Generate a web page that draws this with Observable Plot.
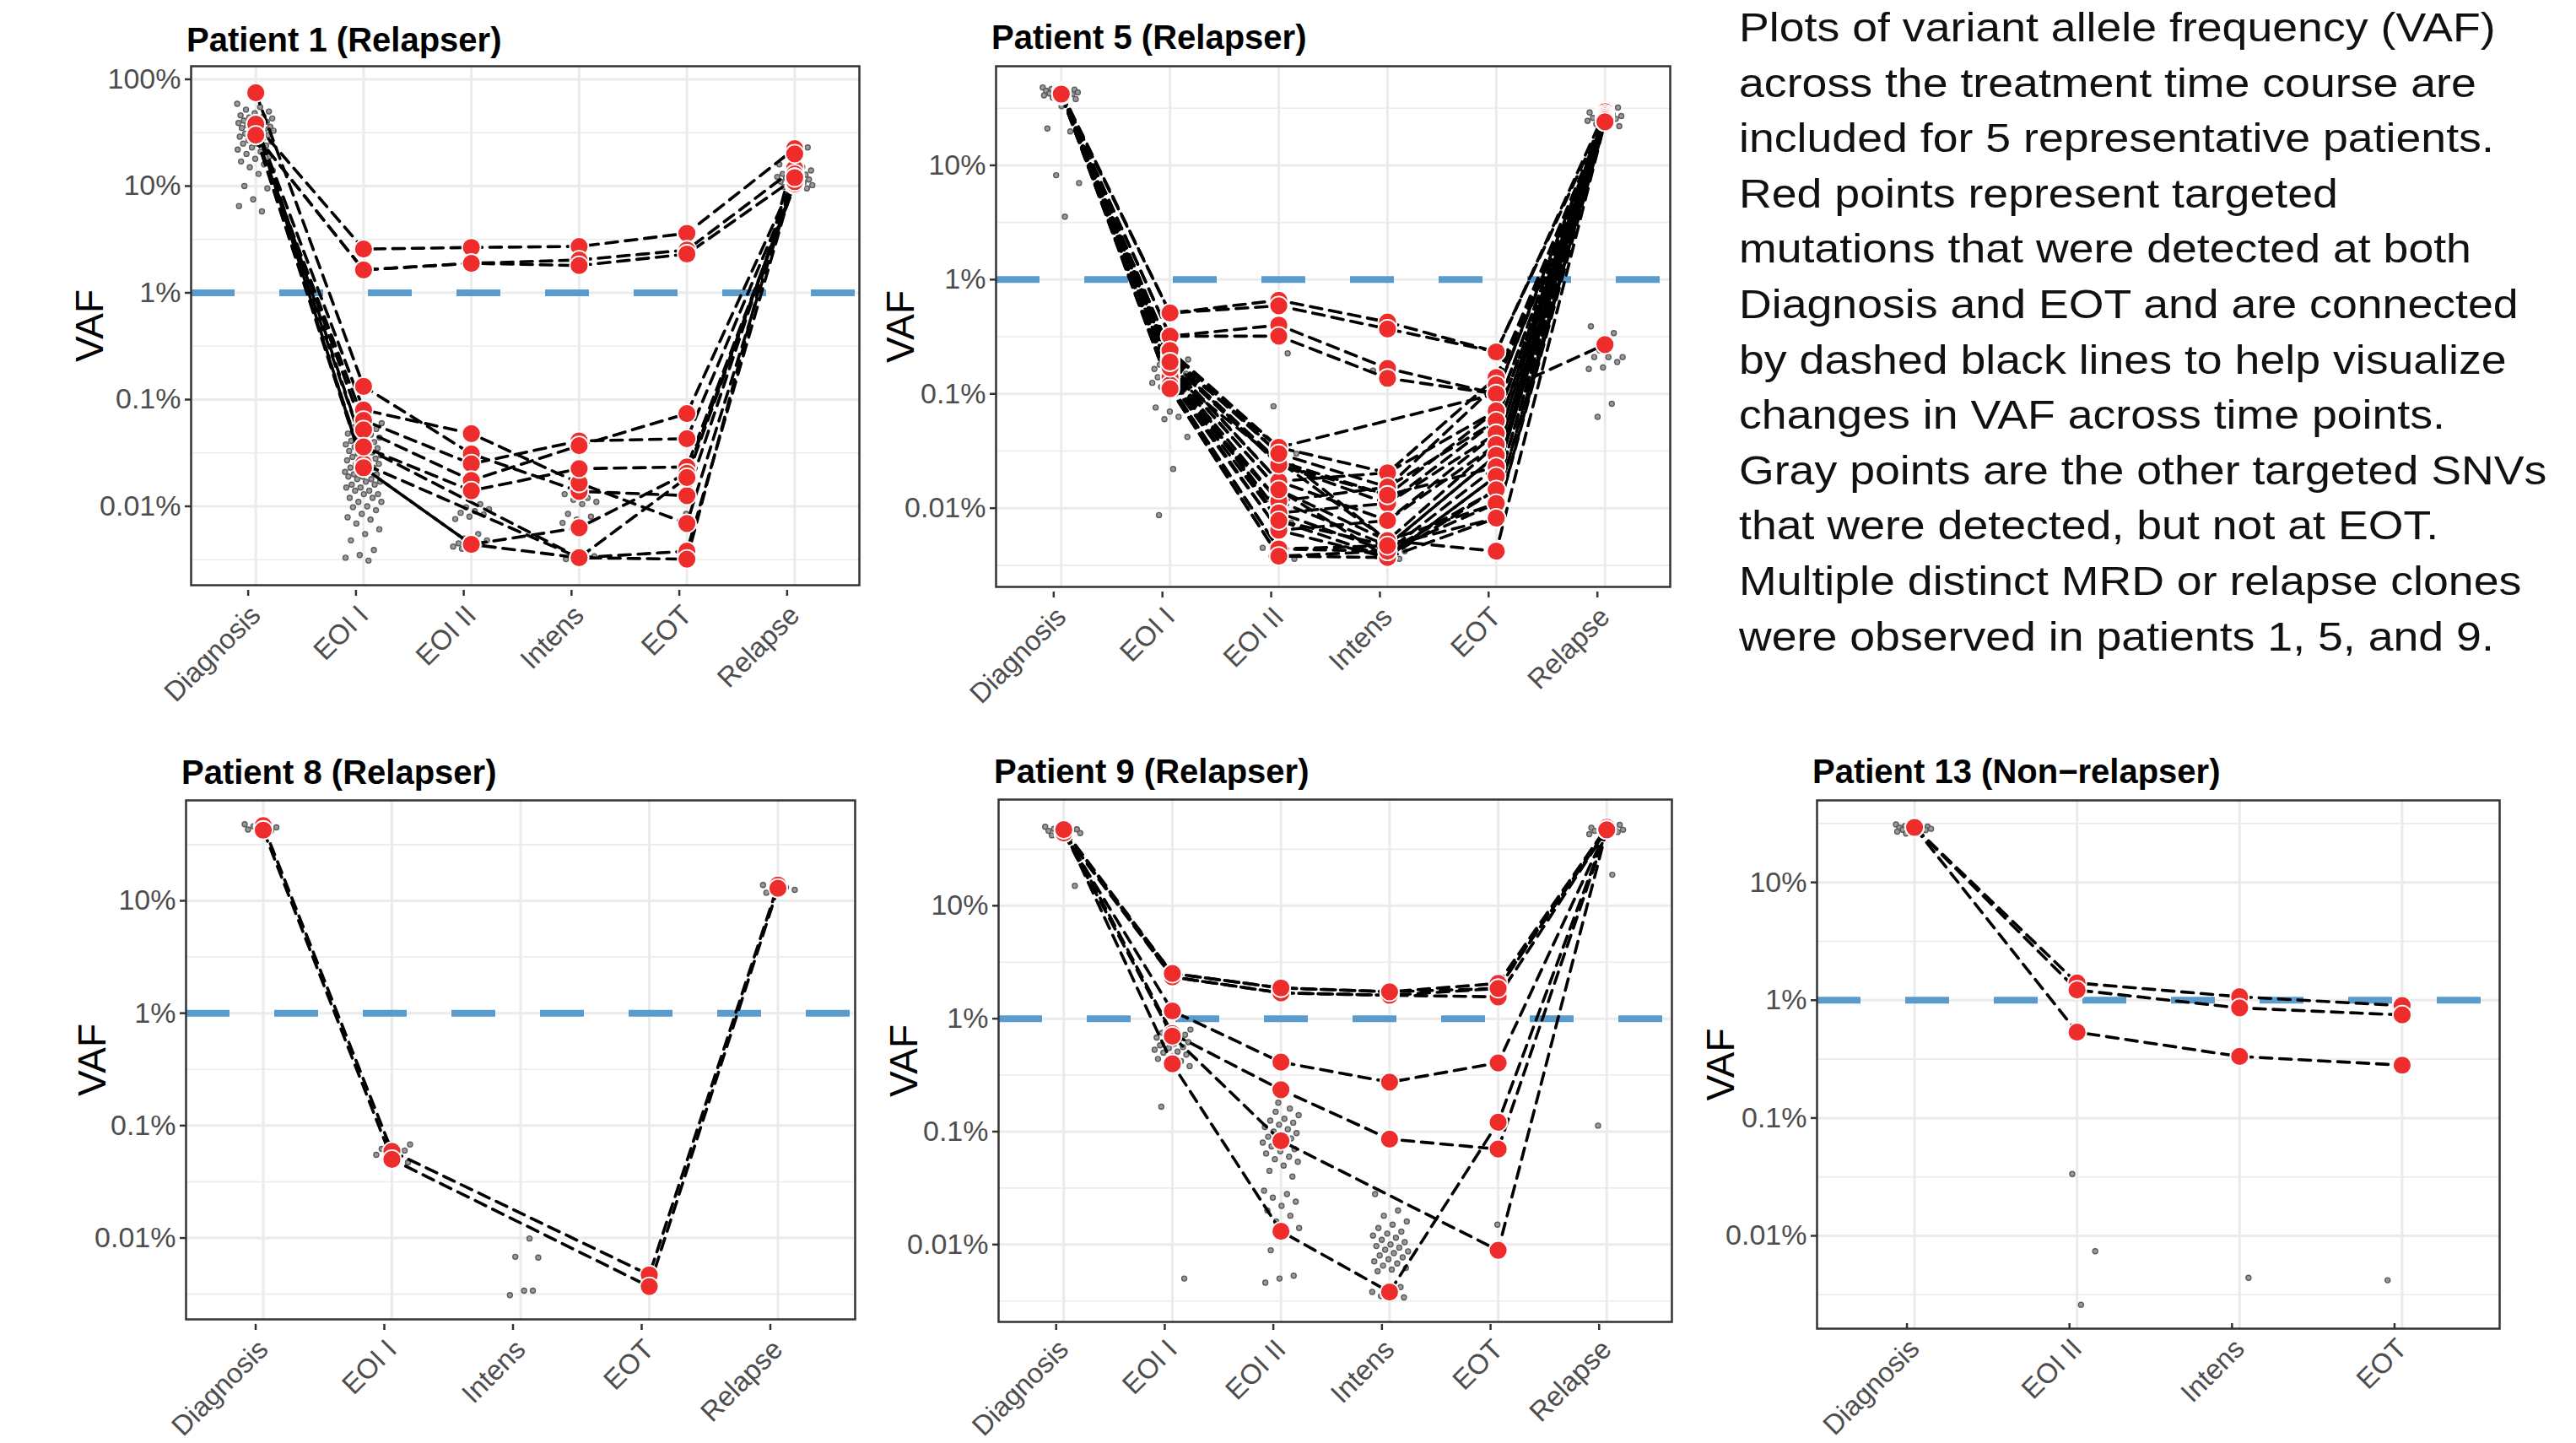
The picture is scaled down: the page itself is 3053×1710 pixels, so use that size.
<!DOCTYPE html>
<html><head><meta charset="utf-8">
<script src="https://cdn.jsdelivr.net/npm/d3@7"></script>
<script src="https://cdn.jsdelivr.net/npm/@observablehq/plot@0.6"></script>
<style>
html,body{margin:0;padding:0;background:#fff;}
body{width:3053px;height:1710px;position:relative;overflow:hidden;font-family:"Liberation Sans",Arial,Helvetica,sans-serif;}
.title{position:absolute;font-weight:bold;font-size:40px;line-height:40px;color:#000;white-space:nowrap;}
#note{position:absolute;left:2061px;top:0px;font-size:49px;line-height:65.6px;color:#111;white-space:pre;transform:scaleX(1.095);transform-origin:0 0;}
</style></head><body>
<div id="note"></div>
<script>
// ---------- data ----------
const yTickValues = [100, 10, 1, 0.1, 0.01];
const yTickLabels = ["100%", "10%", "1%", "0.1%", "0.01%"];
const yMinorValues = [31.62, 3.162, 0.3162, 0.03162, 0.003162];
const thresholdVAF = 1;

const noteLines = [
  "Plots of variant allele frequency (VAF)",
  "across the treatment time course are",
  "included for 5 representative patients.",
  "Red points represent targeted",
  "mutations that were detected at both",
  "Diagnosis and EOT and are connected",
  "by dashed black lines to help visualize",
  "changes in VAF across time points.",
  "Gray points are the other targeted SNVs",
  "that were detected, but not at EOT.",
  "Multiple distinct MRD or relapse clones",
  "were observed in patients 1, 5, and 9."
];

// Patient 1
const p1Title = "Patient 1 (Relapser)";
const p1Categories = ["Diagnosis", "EOI I", "EOI II", "Intens", "EOT", "Relapse"];
const p1Tracks = [
  [38, 2.57, 2.66, 2.72, 3.61, 22.4],
  [30, 1.64, 1.89, 2.03, 2.52, 14.6],
  [30, 1.64, 1.89, 1.80, 2.31, 11.8],
  [74.8, 0.133, 0.031, 0.0138, 0.0126, 13],
  [38, 0.080, 0.048, 0.0165, 0.0069, 12],
  [30, 0.064, 0.025, 0.041, 0.043, 11],
  [30, 0.052, 0.0175, 0.037, 0.074, 12],
  [38, 0.036, 0.014, 0.0225, 0.0234, 10.2],
  [30, 0.023, 0.0044, 0.0063, 0.0204, 10.5],
  [30, 0.025, null, 0.0033, 0.0186, 11],
  [38, 0.023, 0.0044, 0.0033, 0.0038, 12],
  [30, 0.036, null, 0.0033, 0.0032, 20]
];
const p1Gray = [
  [59, 55, 52, 50, 48, 46, 45, 44, 43, 42, 41, 40, 40, 39, 38, 37, 36, 36, 35, 34, 33, 33, 32, 31, 30, 30, 29, 28, 27, 26, 25, 25, 24, 23, 22, 21, 20, 19, 18, 17, 16, 15, 14, 13, 10, 9.5, 7.5, 6.5, 5.8],
  [0.065, 0.06, 0.058, 0.055, 0.053, 0.05, 0.048, 0.047, 0.045, 0.044, 0.042, 0.041, 0.04, 0.039, 0.038, 0.037, 0.036, 0.035, 0.034, 0.033, 0.032, 0.031, 0.03, 0.03, 0.029, 0.028, 0.027, 0.027, 0.026, 0.025, 0.025, 0.024, 0.023, 0.023, 0.022, 0.021, 0.021, 0.02, 0.02, 0.019, 0.019, 0.018, 0.018, 0.017, 0.017, 0.016, 0.016, 0.015, 0.015, 0.014, 0.014, 0.013, 0.013, 0.012, 0.012, 0.011, 0.011, 0.01, 0.0098, 0.0092, 0.0085, 0.0079, 0.0075, 0.0069, 0.0061, 0.0055, 0.0048, 0.0039, 0.0035, 0.0033, 0.0031],
  [0.0105, 0.0098, 0.0094, 0.009, 0.0087, 0.0084, 0.008, 0.0076, 0.0055, 0.005, 0.0048, 0.0046, 0.0045, 0.0044, 0.0043, 0.0042, 0.0041, 0.004],
  [0.013, 0.012, 0.0115, 0.011, 0.0105, 0.0085, 0.008, 0.0075, 0.007, 0.0036, 0.0035, 0.0034, 0.0033, 0.0032],
  [0.0085],
  [23, 21, 16, 15, 14.5, 14, 13.5, 13, 12.8, 12.5, 12.2, 12, 11.8, 11.5, 11.2, 11, 10.8, 10.5, 10.2, 10, 9.8, 9.5, 9.2]
];

// Patient 5
const p5Title = "Patient 5 (Relapser)";
const p5Categories = ["Diagnosis", "EOI I", "EOI II", "Intens", "EOT", "Relapse"];
const p5Tracks = [
  [44, 0.51, 0.66, 0.425, 0.233, 29.5],
  [42, 0.51, 0.59, 0.37, 0.233, 27],
  [42, 0.32, 0.40, 0.167, 0.10, 24],
  [42, 0.32, 0.32, 0.137, 0.10, 0.27],
  [42, 0.24, 0.034, 0.0204, 0.139, 26],
  [43, 0.22, 0.030, 0.0153, 0.12, 25],
  [42, 0.20, 0.0257, 0.013, 0.071, 27],
  [41, 0.19, 0.024, 0.011, 0.058, 24],
  [44, 0.185, 0.0172, 0.0078, 0.045, 28],
  [42, 0.17, 0.0145, 0.0052, 0.036, 25],
  [43, 0.16, 0.0115, 0.0047, 0.029, 24],
  [42, 0.15, 0.0091, 0.0042, 0.023, 26],
  [41, 0.143, 0.0078, 0.0037, 0.019, 27],
  [42, 0.13, 0.0064, 0.0037, 0.0145, 25],
  [43, 0.12, 0.0044, 0.0042, 0.011, 24],
  [42, 0.111, 0.0038, 0.0037, 0.0082, 28],
  [42, 0.20, 0.034, null, 0.10, 26],
  [44, 0.15, 0.0257, 0.0052, 0.0042, 24],
  [42, 0.18, 0.0172, 0.0204, 0.071, 27],
  [41, 0.13, 0.0115, 0.0153, 0.058, 25],
  [43, 0.16, 0.0091, 0.011, 0.045, 26],
  [42, 0.14, 0.0064, 0.0078, 0.036, 28],
  [42, 0.12, 0.0044, 0.0047, 0.029, 24],
  [44, 0.20, 0.024, 0.013, 0.023, 25],
  [42, 0.17, 0.0145, 0.0037, 0.019, 27],
  [43, 0.111, 0.0038, 0.0042, 0.0145, 26],
  [42, 0.24, 0.030, 0.0052, 0.011, 25],
  [42, 0.19, 0.0078, 0.0047, 0.0082, 24]
];
const p5Gray = [
  [48, 47, 46.5, 46, 45.5, 45, 44.5, 44, 43.5, 43, 42.5, 42, 41.5, 41, 40, 39, 38, 33, 21, 19.8, 8.2, 7.0, 3.55],
  [0.22, 0.2, 0.19, 0.18, 0.175, 0.17, 0.165, 0.16, 0.155, 0.15, 0.145, 0.14, 0.135, 0.13, 0.125, 0.12, 0.115, 0.11, 0.07, 0.076, 0.063, 0.06, 0.042, 0.022, 0.0087],
  [0.226, 0.078, 0.03, 0.02, 0.012, 0.0075, 0.005, 0.0045, 0.0042, 0.0038, 0.0036],
  [0.16, 0.0048, 0.0044, 0.0042, 0.004, 0.0038, 0.0036],
  [],
  [32, 30, 29, 28, 27.5, 27, 26.5, 26, 25.5, 25, 24.5, 24, 23, 22, 21, 0.39, 0.34, 0.24, 0.21, 0.21, 0.21, 0.19, 0.17, 0.165, 0.082, 0.063]
];

// Patient 8
const p8Title = "Patient 8 (Relapser)";
const p8Categories = ["Diagnosis", "EOI I", "Intens", "EOT", "Relapse"];
const p8Tracks = [
  [46.6, 0.059, null, 0.0047, 13.8],
  [42.5, 0.050, null, 0.0037, 12.9]
];
const p8Gray = [
  [48, 47, 46, 45, 44, 43, 42, 41],
  [0.07, 0.068, 0.065, 0.062, 0.06, 0.058, 0.055, 0.053, 0.05, 0.047, 0.044],
  [0.0099, 0.0068, 0.0067, 0.0034, 0.0031, 0.0034],
  [],
  [14.5, 13.8, 13.2, 12.8, 12.5, 12.2, 11.8]
];

// Patient 9
const p9Title = "Patient 9 (Relapser)";
const p9Categories = ["Diagnosis", "EOI I", "EOI II", "Intens", "EOT", "Relapse"];
const p9Tracks = [
  [47.2, 2.51, 1.87, 1.73, 2.05, 49.5],
  [44, 2.34, 1.69, 1.61, 1.85, 47],
  [47.2, 2.34, 1.69, 1.61, 1.56, 47],
  [44, 2.51, 1.87, 1.73, 1.85, 49.5],
  [44, 1.17, 0.412, 0.274, 0.406, 47],
  [47.2, 0.736, 0.235, 0.0858, 0.070, 47],
  [44, 0.70, 0.083, null, 0.0089, 47],
  [47.2, 0.398, 0.0131, 0.0038, 0.121, 47]
];
const p9Gray = [
  [50, 49, 48, 47.5, 47, 46, 45.5, 45, 44, 43, 42, 15],
  [0.85, 0.8, 0.78, 0.75, 0.72, 0.7, 0.68, 0.66, 0.64, 0.62, 0.6, 0.58, 0.56, 0.55, 0.53, 0.51, 0.5, 0.48, 0.46, 0.44, 0.42, 0.4, 0.38, 0.36, 0.166, 0.005],
  [0.16, 0.15, 0.14, 0.13, 0.125, 0.12, 0.115, 0.11, 0.105, 0.1, 0.097, 0.094, 0.09, 0.087, 0.084, 0.08, 0.077, 0.074, 0.07, 0.067, 0.064, 0.06, 0.057, 0.054, 0.05, 0.045, 0.04, 0.18, 0.03, 0.028, 0.026, 0.024, 0.022, 0.02, 0.018, 0.016, 0.014, 0.012, 0.0089, 0.0053, 0.005, 0.0046],
  [0.028, 0.02, 0.018, 0.016, 0.015, 0.014, 0.013, 0.0125, 0.012, 0.0115, 0.011, 0.0105, 0.01, 0.0097, 0.0094, 0.009, 0.0087, 0.0084, 0.008, 0.0077, 0.0074, 0.0071, 0.0068, 0.0065, 0.0062, 0.006, 0.0058, 0.0042, 0.004, 0.0038, 0.0036, 0.0035, 0.0034, 0.0033],
  [0.015],
  [52, 50, 49, 48, 47.5, 47, 46.5, 46, 45, 44, 43, 18.8, 0.113]
];

// Patient 13
const p13Title = "Patient 13 (Non\u2212relapser)";
const p13Categories = ["Diagnosis", "EOI II", "Intens", "EOT"];
const p13Tracks = [
  [29.3, 1.40, 1.07, 0.90],
  [29.3, 1.22, 0.86, 0.75],
  [29.3, 0.535, 0.333, 0.281]
];
const p13Gray = [
  [31, 30.5, 30, 29.8, 29.5, 29.2, 29, 28.8, 28.5, 28.2, 28, 27.8, 27.5, 27, 26.5, 26],
  [0.0335, 0.0074, 0.0026],
  [0.0044],
  [0.0042]
];

// ---------- layout (page pixels) ----------
const panels = [
  {title: p1Title, categories: p1Categories, tracks: p1Tracks, gray: p1Gray, left: 226, right: 1018, top: 78, bottom: 693, lo: -2.739, hi: 2.1225, titleTop: 27, vafDx: -119, xdy: 6},
  {title: p5Title, categories: p5Categories, tracks: p5Tracks, gray: p5Gray, left: 1180, right: 1979, top: 78, bottom: 695, lo: -2.689, hi: 1.867, titleTop: 24, vafDx: -112, xdy: 6},
  {title: p8Title, categories: p8Categories, tracks: p8Tracks, gray: p8Gray, left: 220, right: 1013, top: 948, bottom: 1563, lo: -2.724, hi: 1.893, titleTop: 895, vafDx: -110, xdy: 6},
  {title: p9Title, categories: p9Categories, tracks: p9Tracks, gray: p9Gray, left: 1183, right: 1981, top: 947, bottom: 1566, lo: -2.685, hi: 1.940, titleTop: 894, vafDx: -111, xdy: 3},
  {title: p13Title, categories: p13Categories, tracks: p13Tracks, gray: p13Gray, left: 2153, right: 2962, top: 948, bottom: 1574, lo: -2.788, hi: 1.696, titleTop: 894, vafDx: -113, xdy: -6}
];

const FONT = "'Liberation Sans', Arial, Helvetica, sans-serif";
const RED = "#EE2C2C";
const BLUE = "#5A9BCD";
const GRID = "#EBEBEB";

function drawPanel(p) {
  const n = p.categories.length;
  const boxW = p.right - p.left, boxH = p.bottom - p.top;
  const step = boxW / (n - 1 + 1.2);
  const jit = 22 / step;
  const mL = 170, mR = 12, mT = 6, mB = 200;
  const yLo = Math.pow(10, p.lo), yHi = Math.pow(10, p.hi);
  const inDom = v => v >= yLo && v <= yHi;

  const grayRows = [];
  p.gray.forEach((vals, i) => vals.forEach((v, k) => {
    const f = ((k * 0.6180339887 + i * 0.37) % 1) - 0.5;
    grayRows.push({x: i + f * 2 * jit, v});
  }));
  const lineRows = [], redRows = [];
  p.tracks.forEach((t, j) => t.forEach((v, i) => {
    if (v != null) { lineRows.push({track: j, x: i, v}); redRows.push({x: i, v}); }
  }));
  const majors = yTickValues.filter(inDom);
  const minors = yMinorValues.filter(inDom);
  const labelOf = d => yTickLabels[yTickValues.indexOf(d)];

  const chart = Plot.plot({
    width: boxW + mL + mR, height: boxH + mT + mB,
    marginLeft: mL, marginRight: mR, marginTop: mT, marginBottom: mB,
    style: {fontFamily: FONT, fontSize: "33px", background: "transparent", overflow: "visible"},
    x: {type: "linear", domain: [-0.6, n - 0.4], axis: null},
    y: {type: "log", domain: [yLo, yHi], axis: null},
    marks: [
      Plot.gridY(minors, {stroke: GRID, strokeOpacity: 1, strokeWidth: 1.6}),
      Plot.gridY(majors, {stroke: GRID, strokeOpacity: 1, strokeWidth: 3}),
      Plot.gridX(d3.range(n), {stroke: GRID, strokeOpacity: 1, strokeWidth: 3}),
      Plot.ruleY([thresholdVAF], {stroke: BLUE, strokeWidth: 8, strokeDasharray: "52,53"}),
      Plot.dot(grayRows, {x: "x", y: "v", r: 3, fill: "#9a9a9a", stroke: "#5a5a5a", strokeWidth: 1.4}),
      Plot.line(lineRows, {x: "x", y: "v", z: "track", stroke: "black", strokeWidth: 3.6, strokeDasharray: "14,9"}),
      Plot.dot(redRows, {x: "x", y: "v", r: 11, fill: RED, stroke: "white", strokeWidth: 1.8}),
      Plot.frame({stroke: "#333", strokeWidth: 2.5}),
      Plot.axisY(majors, {anchor: "left", tickSize: 7, tickPadding: 5, stroke: "#333", strokeWidth: 2.5, fill: "#4D4D4D", fontSize: 34, tickFormat: labelOf, label: null}),
      Plot.axisX(d3.range(n), {anchor: "bottom", tickSize: 7, tickPadding: 8, tickRotate: -45, textAnchor: "end", lineAnchor: "top", dx: -9, dy: p.xdy, stroke: "#333", strokeWidth: 2.5, fill: "#4D4D4D", fontSize: 33, tickFormat: i => p.categories[i], label: null}),
      Plot.text(["VAF"], {frameAnchor: "left", dx: p.vafDx, rotate: -90, fontSize: 46, fill: "black", textAnchor: "middle", lineAnchor: "middle"})
    ]
  });
  chart.style.position = "absolute";
  chart.style.left = (p.left - mL) + "px";
  chart.style.top = (p.top - mT) + "px";
  document.body.appendChild(chart);

  const t = document.createElement("div");
  t.className = "title";
  t.textContent = p.title;
  t.style.left = (p.left - 5) + "px";
  t.style.top = p.titleTop + "px";
  document.body.appendChild(t);
}

panels.forEach(drawPanel);
document.getElementById("note").textContent = noteLines.join("\n");
</script>
</body></html>
